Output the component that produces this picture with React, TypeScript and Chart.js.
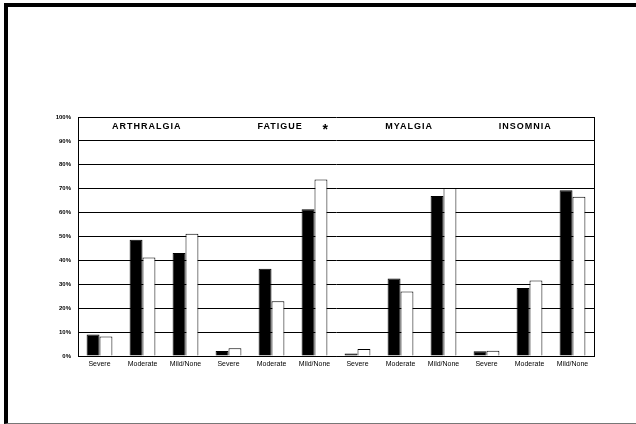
import React, { useEffect, useRef } from "react";
import { Chart, registerables } from "chart.js";

Chart.register(...registerables);

const categories = [
  "Severe", "Moderate", "Mild/None",
  "Severe", "Moderate", "Mild/None",
  "Severe", "Moderate", "Mild/None",
  "Severe", "Moderate", "Mild/None",
];
const seriesBlack = [9, 48.6, 43.1, 2.1, 36.5, 61.4, 1, 32.4, 66.9, 2, 28.5, 69.3];
const seriesWhite = [8.2, 41.2, 51.1, 3.2, 22.9, 73.9, 2.9, 27, 70.3, 2.2, 31.6, 66.6];
const groupNames = ["ARTHRALGIA", "FATIGUE", "MYALGIA", "INSOMNIA"];
const groupAnchors = [1.1, 4.2, 7.2, 9.9];
const markText = "*";
const markAnchor = 5.25;

const groupLabelPlugin = {
  id: "groupLabels",
  afterDraw(chart: any) {
    const { ctx, chartArea, scales } = chart;
    const x = scales.x;
    const y = scales.y;
    ctx.save();
    // plot frame (right border)
    ctx.strokeStyle = "#000";
    ctx.lineWidth = 1;
    ctx.beginPath();
    ctx.moveTo(Math.round(chartArea.right) + 0.5, chartArea.top);
    ctx.lineTo(Math.round(chartArea.right) + 0.5, chartArea.bottom);
    ctx.stroke();
    ctx.fillStyle = "#000";
    ctx.textAlign = "center";
    ctx.textBaseline = "middle";
    ctx.font = "bold 9px 'Liberation Sans', Arial, sans-serif";
    try { (ctx as any).letterSpacing = "1px"; } catch (e) {}
    const ly = y.getPixelForValue(96.2);
    groupNames.forEach((n, i) => {
      ctx.fillText(n, x.getPixelForValue(groupAnchors[i]), ly);
    });
    try { (ctx as any).letterSpacing = "0px"; } catch (e) {}
    ctx.font = "bold 14px 'Liberation Sans', Arial, sans-serif";
    ctx.fillText(markText, x.getPixelForValue(markAnchor), y.getPixelForValue(94.6));
    ctx.restore();
  },
};

export default function App() {
  const ref = useRef<HTMLCanvasElement | null>(null);
  useEffect(() => {
    if (!ref.current) return;
    const chart = new Chart(ref.current, {
      type: "bar",
      data: {
        labels: categories,
        datasets: [
          {
            data: seriesBlack,
            backgroundColor: "#000",
            borderColor: "#000",
            borderWidth: 1,
            categoryPercentage: 0.6,
            barPercentage: 1.0,
          },
          {
            data: seriesWhite,
            backgroundColor: "#fff",
            borderColor: "#000",
            borderWidth: 1,
            categoryPercentage: 0.6,
            barPercentage: 1.0,
          },
        ],
      },
      options: {
        responsive: false,
        animation: false,
        layout: { padding: { left: 0, top: 117, right: 42, bottom: 48 } },
        plugins: { legend: { display: false }, tooltip: { enabled: false } },
        scales: {
          x: {
            grid: { display: false, drawTicks: false },
            border: { display: true, color: "#000", width: 1 },
            ticks: {
              color: "#000",
              padding: 4,
              maxRotation: 0,
              autoSkip: false,
              font: { size: 7, family: "'Liberation Sans', Arial, sans-serif" },
            },
            afterFit(s: any) { s.height = 20; },
          },
          y: {
            min: 0,
            max: 100,
            grid: { color: "#000", lineWidth: 1, drawTicks: false },
            border: { display: true, color: "#000", width: 1 },
            ticks: {
              stepSize: 10,
              color: "#000",
              padding: 7,
              font: { size: 6, weight: "bold", family: "'Liberation Sans', Arial, sans-serif" },
              callback: (v: any) => v + "%",
            },
            afterFit(s: any) { s.width = 78; },
          },
        },
      },
      plugins: [groupLabelPlugin],
    } as any);
    return () => chart.destroy();
  }, []);
  return (
    <div style={{ position: "fixed", left: 0, top: 0, width: 636, height: 424, background: "#fff" }}>
      <div
        style={{
          position: "absolute",
          left: 4,
          top: 3,
          right: 0,
          bottom: 1,
          borderTop: "4px solid #000",
          borderLeft: "4px solid #000",
          borderBottom: "1px solid #777",
          boxSizing: "border-box",
          height: 421,
        }}
      />
      <canvas ref={ref} width={636} height={424} style={{ position: "absolute", left: 0, top: 0 }} />
    </div>
  );
}
